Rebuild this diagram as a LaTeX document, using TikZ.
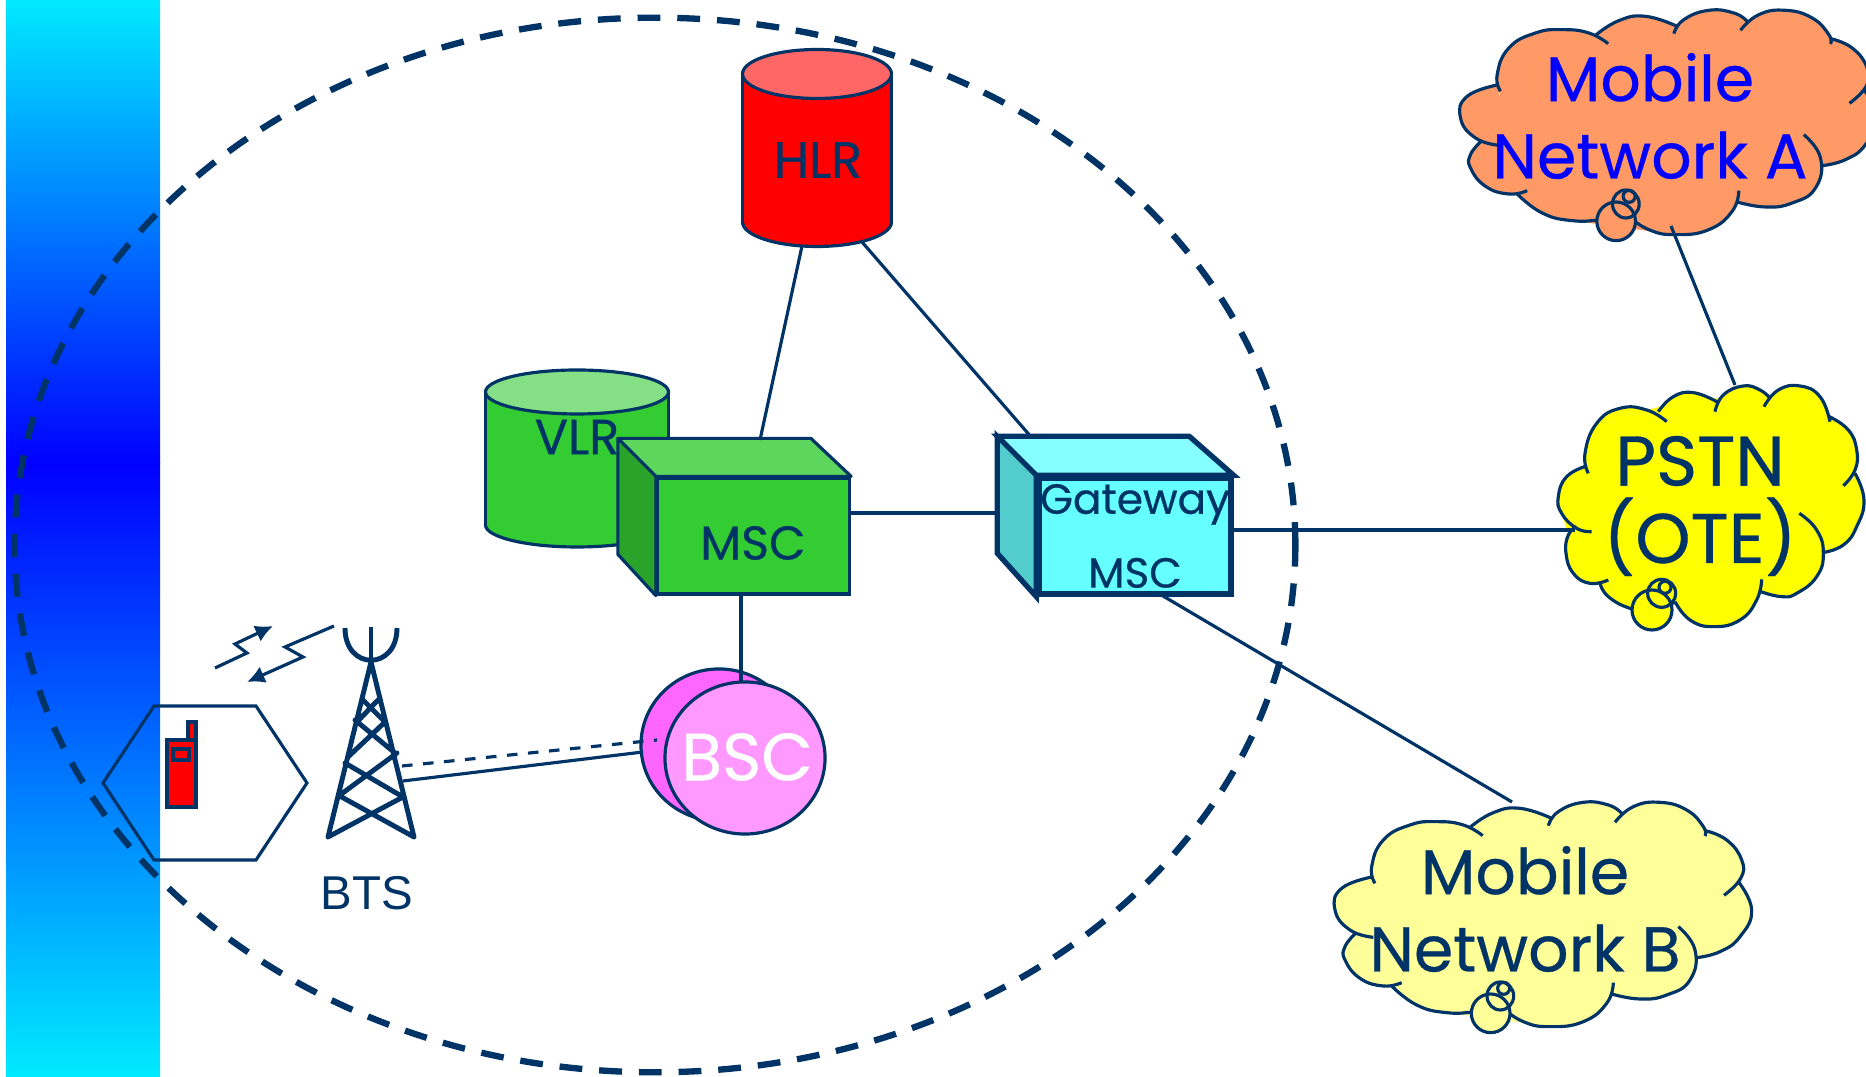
\documentclass[tikz,border=0pt]{standalone}
\usepackage{fontspec}
\setmainfont[FakeBold=0.5]{Poppins}
\newfontfamily\btsfont{Liberation Sans}
\usetikzlibrary{shapes.geometric, arrows.meta}

\definecolor{navy}{HTML}{003366}
\definecolor{strip_end}{HTML}{00EAFF}
\definecolor{green_front}{HTML}{33CC33}
\definecolor{green_top}{HTML}{5CD65C}
\definecolor{green_side}{HTML}{29A329}
\definecolor{green_lid}{HTML}{85E085}
\definecolor{cyan_front}{HTML}{66FFFF}
\definecolor{cyan_top}{HTML}{85FFFF}
\definecolor{cyan_side}{HTML}{52CCCC}
\definecolor{pink_back}{HTML}{FF66FF}
\definecolor{pink_front}{HTML}{FF99FF}
\definecolor{red_lid}{HTML}{FF6666}
\definecolor{cloud_a}{HTML}{FF9966}
\definecolor{cloud_b}{HTML}{FFFF99}
\definecolor{cloud_c}{HTML}{FFFF00}

% outline of the two mobile network clouds, in zoomed pixels
\def\lobesAB{
  plot[lobe] coordinates {(160,442) (90,420) (45,360) (65,295) (160,260)}
  plot[lobe] coordinates {(165,280) (155,230) (190,150) (270,105) (350,95) (430,105) (488,137)}
  plot[lobe] coordinates {(450,112) (520,68) (600,55) (695,85)}
  plot[lobe] coordinates {(685,107) (715,65) (790,37) (865,45) (905,70)}
  plot[lobe] coordinates {(885,97) (940,50) (1020,37) (1100,60) (1150,110) (1155,138)}
  plot[lobe] coordinates {(1155,122) (1220,150) (1265,210) (1262,265) (1212,316)}
  plot[lobe] coordinates {(1255,275) (1295,360) (1260,440) (1200,485) (1130,503)}
  plot[lobe] coordinates {(1075,410) (1125,480) (1110,570) (1040,615) (960,627) (875,612)}
  plot[lobe] coordinates {(880,578) (860,640) (790,695) (690,710) (610,695) (545,652)}
  plot[lobe] coordinates {(545,655) (470,665) (380,668) (290,645) (215,588)}
  plot[lobe] coordinates {(245,578) (190,588) (120,565) (75,510) (75,470) (105,432)}
}
\def\coreAB{(160,300) -- (190,150) -- (450,112) -- (695,85) -- (905,70) -- (1155,122) -- (1262,265) -- (1255,440) -- (1130,503) -- (1110,570) -- (875,612) -- (690,710) -- (380,668) -- (215,588) -- (75,490) -- (105,432) -- (60,380) -- cycle}
\def\lobesPSTN{
  plot[lobe] coordinates {(155,485) (110,475) (65,430) (55,380) (80,320) (140,288)}
  plot[lobe] coordinates {(145,310) (135,250) (170,160) (240,115) (320,120) (380,155)}
  plot[lobe] coordinates {(355,125) (400,80) (460,68) (530,95)}
  plot[lobe] coordinates {(525,125) (550,75) (610,48) (660,60) (690,85)}
  plot[lobe] coordinates {(672,110) (715,60) (780,48) (840,80) (870,155)}
  plot[lobe] coordinates {(868,140) (925,180) (950,240) (945,300) (910,347)}
  plot[lobe] coordinates {(945,310) (972,390) (950,470) (910,525) (848,548)}
  plot[lobe] coordinates {(778,430) (830,480) (850,550) (830,620) (770,670) (725,680) (662,665)}
  plot[lobe] coordinates {(665,628) (650,690) (600,750) (520,770) (450,750) (405,695)}
  plot[lobe] coordinates {(405,695) (340,725) (270,715) (205,680) (180,640)}
  plot[lobe] coordinates {(205,630) (150,640) (100,610) (78,550) (85,495) (110,470)}
}
\def\corePSTN{(145,310) -- (250,135) -- (410,100) -- (610,75) -- (780,75) -- (915,190) -- (935,310) -- (945,470) -- (848,548) -- (770,660) -- (662,665) -- (600,750) -- (520,770) -- (405,695) -- (270,715) -- (180,640) -- (150,640) -- (85,495) -- (65,430) -- cycle}

% cx, half width, lid y, base y, half lid height, body and lid colours
\newcommand{\netdisk}[7]{
  \filldraw[net_line, fill = #6] (#1,#4) ellipse [x radius = #2, y radius = #5];
  \fill[#6] (#1-#2,#3) rectangle (#1+#2,#4);
  \draw[net_line] (#1-#2,#3) -- (#1-#2,#4) (#1+#2,#3) -- (#1+#2,#4);
  \filldraw[net_line, fill = #7] (#1,#3) ellipse [x radius = #2, y radius = #5];
}

\begin{document}
\begin{tikzpicture}[x=0.01cm, y=-0.01cm]
    \tikzstyle{lobe}       = [smooth, tension = 0.8]
    \tikzstyle{net_line}   = [draw = navy, line width = 0.9pt]
    \tikzstyle{net_text}   = [text = navy, inner sep = 0pt]
    \tikzstyle{cube_front} = [shape = rectangle, draw = navy, line width = 0.9pt, minimum width = 1.92cm, minimum height = 1.16cm, inner sep = 0pt]
    \tikzstyle{cube_gate}  = [cube_front, line width = 1.5pt, fill = cyan_front, text = navy, align = center]
    \tikzstyle{bubble}     = [draw = navy, line width = 0.9pt]
    \tikzstyle{cloud_text} = [inner sep = 0pt, align = center, font = \fontsize{18}{22}\selectfont]

    \useasboundingbox (0,0) rectangle (1866,1077);
    \clip (0,0) rectangle (1866,1077);

    % side strip
    \shade[top color = strip_end, bottom color = blue] (6,0) rectangle (160,464);
    \shade[top color = blue, bottom color = strip_end] (6,464) rectangle (160,1077);

    % coverage area
    \node[shape = ellipse, draw = navy, line width = 1.8pt, dash pattern = on 6.5pt off 4.8pt, minimum width = 12.8cm, minimum height = 10.54cm, inner sep = 0pt] at (655,545) (n_area) {};

    % clouds
    \begin{scope}[shift = {(1445.5,-2)}, scale = 1/3]
      \fill[cloud_a] \lobesAB \coreAB;
      \draw[bubble] \lobesAB;
      \draw[bubble, fill = cloud_a] (512,670) circle [radius = 58];
      \draw[bubble] (541,618) ellipse [x radius = 40, y radius = 42];
      \draw[bubble] (551,595) circle [radius = 18];
    \end{scope}
    \begin{scope}[shift = {(1320,790)}, scale = 1/3]
      \fill[cloud_b] \lobesAB \coreAB;
      \draw[bubble] \lobesAB;
      \draw[bubble, fill = cloud_b] (512,670) circle [radius = 58];
      \draw[bubble] (541,618) ellipse [x radius = 40, y radius = 42];
      \draw[bubble] (551,595) circle [radius = 18];
    \end{scope}
    \begin{scope}[shift = {(1540,370)}, scale = 1/3]
      \fill[cloud_c] \lobesPSTN \corePSTN;
      \draw[bubble] \lobesPSTN;
      \draw[bubble, fill = cloud_c] (336,720) circle [radius = 60];
      \draw[bubble] (365,670) circle [radius = 42];
      \draw[bubble] (375,652) circle [radius = 18];
    \end{scope}

    \node[cloud_text, text = blue] at (1650,116) (n_neta) {Mobile\\Network A};
    \node[cloud_text, text = navy] at (1525,909) (n_netb) {Mobile\\Network B};
    \node[cloud_text, text = navy, font = \fontsize{20}{22}\selectfont] at (1700,506) (n_pstn) {PSTN\\(OTE)};

    % databases
    \netdisk{577}{91.5}{392}{525}{22}{green_front}{green_lid}
    \node[net_text, font = \fontsize{14}{16}\selectfont] at (577,437) (n_vlr) {VLR};
    \netdisk{817}{74.5}{74}{222}{24.5}{red}{red_lid}
    \node[net_text, font = \fontsize{14.5}{16}\selectfont] at (818,160) (n_hlr) {HLR};

    % boxes
    \node[cube_front, fill = green_front] at (753.5,536) (n_msc_box) {};
    \filldraw[net_line, fill = green_top, line join = round] (n_msc_box.north west) -- ++(-38,-38) -- ++(193,0) -- (n_msc_box.north east) -- cycle;
    \filldraw[net_line, fill = green_side, line join = round] (n_msc_box.north west) -- ++(-38,-38) -- ++(0,116) -- (n_msc_box.south west) -- cycle;
    \node[net_text, font = \fontsize{13.5}{16}\selectfont] at (753,543) (n_msc) {MSC};

    \node[cube_gate, font = \fontsize{12}{21}\selectfont] at (1135,536) (n_gmsc) {Gateway\\MSC};
    \filldraw[draw = navy, line width = 1.5pt, fill = cyan_top, line join = miter] (n_gmsc.north west) -- ++(-39,-39) -- ++(192,0) -- (n_gmsc.north east) -- cycle;
    \filldraw[draw = navy, line width = 1.5pt, fill = cyan_side, line join = miter] (n_gmsc.north west) -- ++(-39,-39) -- ++(0,117) -- (n_gmsc.south west) -- cycle;

    % controller
    \node[shape = ellipse, draw = navy, line width = 0.9pt, fill = pink_back, minimum width = 1.56cm, minimum height = 1.52cm, inner sep = 0pt] at (719,745) (n_bsc_back) {};
    \node[shape = ellipse, draw = navy, line width = 0.9pt, fill = pink_front, minimum width = 1.6cm, minimum height = 1.52cm, inner sep = 0pt] at (745,758) (n_bsc_front) {};
    \node[text = white, inner sep = 0pt, font = \fontsize{19}{22}\selectfont] at (747,757) (n_bsc) {BSC};

    % mast
    \draw[navy, line width = 1.4pt, line cap = round, line join = round]
      (328,837) -- (371,662) -- (414,837)
      (328,837) -- (403,797) (414,837) -- (338,795)
      (340,795) -- (397,753) (403,797) -- (345,763)
      (348,757) -- (385,722) (395,753) -- (355,720)
      (357,722) -- (378,700) (385,722) -- (363,700);
    \draw[navy, line width = 1.4pt] (371,627) -- (371,662);
    \draw[navy, line width = 1.4pt] (345,628) .. controls (345,671) and (397,671) .. (397,628);
    \node[text = navy, inner sep = 0pt, font = \btsfont\fontsize{13.5}{15}\selectfont] at (367,893) (n_bts) {BTS};

    % handset and its cell
    \draw[net_line] (154,706) -- (256,706) -- (307,783) -- (256,860) -- (154,860) -- (103,783) -- cycle;
    \filldraw[net_line, line width = 1.1pt, fill = red] (167,740) rectangle (196,807);
    \filldraw[net_line, line width = 1.1pt, fill = red] (188,722) rectangle (196,740);
    \draw[net_line, line width = 1.1pt] (173,749) rectangle (189,760);

    % radio link
    \coordinate (z1) at (215,668);
    \coordinate (z2) at (273,626);
    \coordinate (z3) at (334,626);
    \coordinate (z4) at (247,682);
    \draw[net_line, -{Latex[length = 5pt, width = 5pt]}] (z1) -- (247,653) -- (235,644) -- (z2);
    \draw[net_line, -{Latex[length = 5pt, width = 5pt]}] (z3) -- (285,647) -- (303,657) -- (z4);

    % link ends
    \coordinate (hlr_l) at (802,246);
    \coordinate (hlr_r) at (862,242);
    \coordinate (msc_t) at (760,440);
    \coordinate (msc_r) at (850,513);
    \coordinate (msc_b) at (741,594);
    \coordinate (gate_t) at (1032,438);
    \coordinate (gate_l) at (1000,513);
    \coordinate (gate_r) at (1232,530);
    \coordinate (gate_b) at (1163,596);
    \coordinate (pstn_l) at (1575,530);
    \coordinate (pstn_t) at (1735,385);
    \coordinate (neta_b) at (1671,226);
    \coordinate (netb_t) at (1512,802);
    \coordinate (bsc_t) at (741,682);
    \coordinate (bsc_s) at (643,752);
    \coordinate (bsc_d) at (657,740);
    \coordinate (bts_s) at (403,781);
    \coordinate (bts_d) at (402,766);

    \draw[net_line]
      (hlr_l) edge (msc_t)
      (hlr_r) edge (gate_t)
      (msc_r) edge (gate_l)
      (msc_b) edge (bsc_t)
      (gate_r) edge (pstn_l)
      (gate_b) edge (netb_t)
      (neta_b) edge (pstn_t)
      (bts_s) edge (bsc_s)
      (bts_d) edge[dashed] (bsc_d)
    ;
  \end{tikzpicture}
\end{document}
